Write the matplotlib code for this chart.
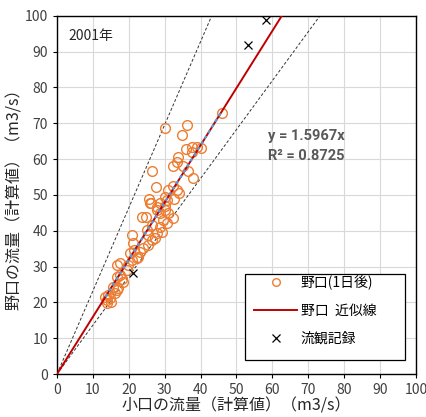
import numpy as np
import matplotlib.pyplot as plt
from matplotlib.patches import Rectangle

plt.rcParams['font.family'] = ['Noto Sans CJK JP', 'DejaVu Sans']

# 小口 (x) / 野口 1日後 (y)
oguchi = [46.0, 30.2, 36.3, 34.7, 35.9, 37.7, 38.9, 40.1, 37.5, 33.8,
          33.3, 32.2, 35.0, 36.6, 37.8, 26.5, 27.5, 32.4, 33.5, 33.9,
          32.6, 31.0, 30.1, 30.6, 25.7, 26.1, 28.7, 27.8,
          20.8, 21.3, 23.6, 24.8, 25.0, 26.4, 20.3, 19.9, 20.8, 22.2,
          19.4, 16.6, 17.5, 16.6, 17.5, 18.5, 15.7, 16.6, 16.2, 14.3,
          14.8, 13.8, 14.0, 25.9, 27.8, 28.7, 30.1, 32.4, 29.6, 30.6,
          28.7, 29.2, 27.8, 27.3, 26.4, 25.4, 24.0, 23.1, 22.7, 30.1,
          31.0, 25.4, 15.0, 13.5, 17.0, 18.0, 21.5]
noguchi = [73.0, 68.6, 69.6, 66.8, 62.8, 63.3, 63.5, 63.0, 62.1, 60.7,
           59.3, 58.2, 58.1, 56.8, 54.6, 56.8, 52.3, 52.5, 51.4, 50.6,
           49.0, 51.4, 49.5, 48.6, 49.0, 47.8, 47.7, 46.7,
           38.8, 36.5, 43.9, 43.9, 40.2, 41.6, 33.7, 30.4, 31.8, 32.3,
           29.1, 30.4, 30.9, 27.2, 27.7, 25.8, 24.4, 23.5, 22.5, 22.1,
           21.1, 20.7, 19.7, 47.7, 45.8, 44.9, 45.8, 43.5, 43.0, 42.1,
           41.1, 39.7, 39.3, 37.9, 37.4, 36.0, 35.1, 34.2, 32.8, 46.8,
           44.9, 38.8, 20.0, 21.5, 24.0, 26.5, 34.5]

# 流観記録
obs_x = [21.2, 53.1, 58.2]
obs_y = [28.2, 91.9, 98.9]

slope = 1.5967
r2 = 0.8725
upper_slope = 2.32
lower_slope = 1.365

fig = plt.figure(figsize=(4.27, 4.17), dpi=100)
ax = fig.add_axes([0.1335, 0.103, 0.8405, 0.859])

ax.set_xlim(0, 100)
ax.set_ylim(0, 100)
ax.set_xticks(np.arange(0, 101, 10))
ax.set_yticks(np.arange(0, 101, 10))
ax.grid(True, color='#d9d9d9', lw=0.8)
ax.set_axisbelow(True)

xx = np.array([0, 100])
ax.plot(xx, upper_slope * xx, ls=(0, (3, 2)), color='#333333', lw=0.7)
ax.plot(xx, lower_slope * xx, ls=(0, (3, 2)), color='#333333', lw=0.7)

ax.plot(oguchi, noguchi, 'o', mfc='none', mec='#ED7D31', ms=7, mew=1.0,
        label='野口(1日後)', zorder=3)
ax.plot(xx, slope * xx, color='#C00000', lw=1.4, label='野口  近似線', zorder=4)
tx = np.array([min(oguchi), max(oguchi)])
ax.plot(tx, slope * tx, ls=(0, (1.5, 1.5)), color='#5B9BD5', lw=1.6, zorder=5)
ax.plot(obs_x, obs_y, 'x', color='black', ms=6, mew=0.9, label='流観記録', zorder=6)

eqfont = ['Roboto', 'DejaVu Sans']
ax.text(58.8, 66.5, 'y = %.4fx' % slope, fontsize=10.5, fontweight='bold',
        color='#595959', family=eqfont, va='center')
ax.text(58.8, 61.0, 'R² = %.4f' % r2, fontsize=10.5, fontweight='bold',
        color='#595959', family=eqfont, va='center')
ax.text(3.3, 94.5, '2001年', fontsize=10, color='#262626', va='center')

for s in ax.spines.values():
    s.set_color('black')
    s.set_linewidth(1.0)
ax.tick_params(direction='out', length=3, labelsize=10, colors='#404040')
ax.tick_params(color='black')

ax.set_xlabel('小口の流量（計算値）（m3/s）', fontsize=11.5, color='#262626', labelpad=0)
ax.set_ylabel('野口の流量（計算値）（m3/s）', fontsize=11.5, color='#262626', labelpad=1)

# legend frame drawn separately (Excel style: tight top, loose bottom)
ax.add_patch(Rectangle((0.524, 0.039), 0.445, 0.240, transform=ax.transAxes,
                       facecolor='white', edgecolor='black', lw=0.9, zorder=7))
leg = ax.legend(loc='upper left', bbox_to_anchor=(0.549, 0.277), fontsize=10,
                frameon=False, borderpad=0, borderaxespad=0,
                handlelength=3.1, handletextpad=0.25, labelspacing=1.0)
leg.set_zorder(8)
leg.legend_handles[0].set_markersize(5.5)

fig.savefig('out.png', dpi=100)
